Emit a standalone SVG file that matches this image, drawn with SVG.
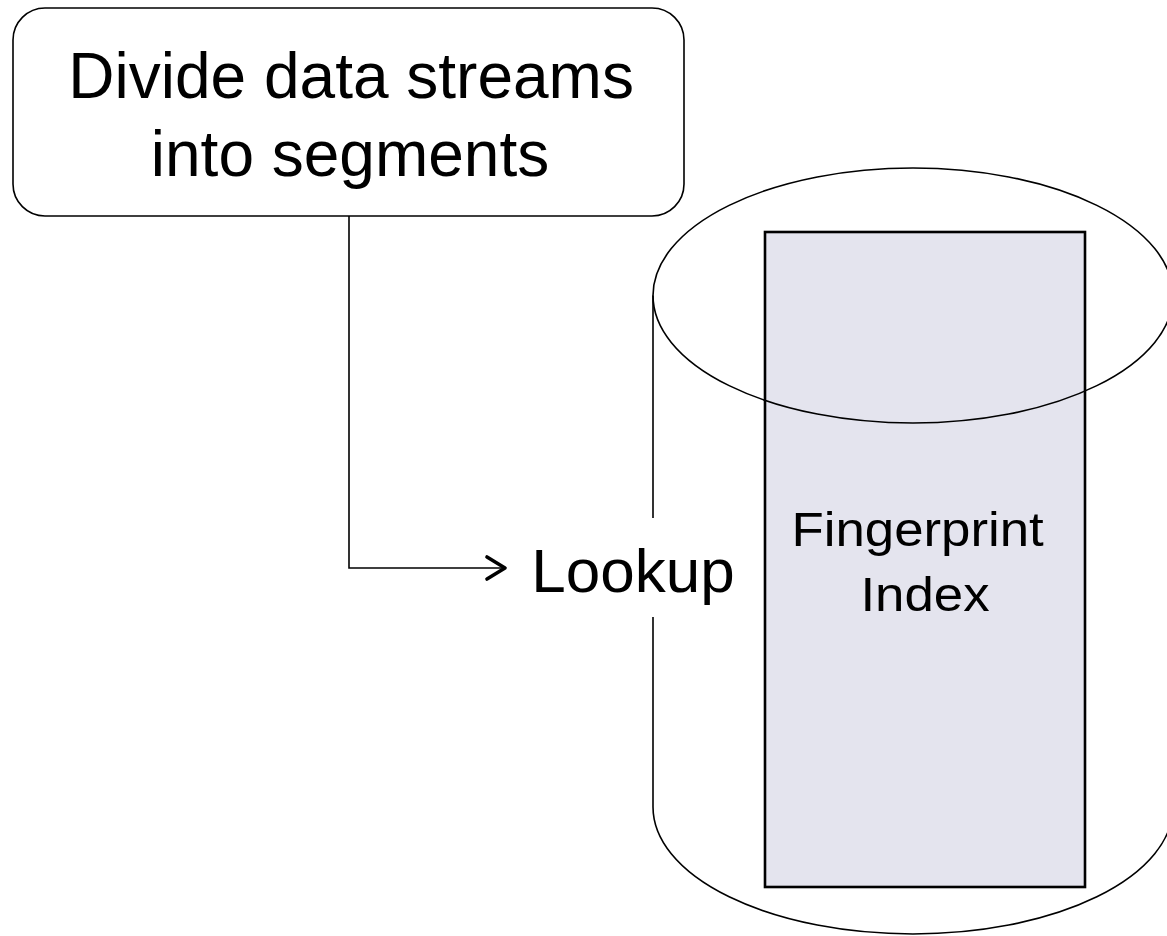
<svg xmlns="http://www.w3.org/2000/svg" width="1167" height="936" viewBox="0 0 1167 936">
  <style>
    .outline { fill: none; stroke: #000; stroke-width: 1.6; }
    .label { font-family: "Liberation Sans", Arial, sans-serif; fill: #000; text-anchor: middle; }
  </style>
  <defs>
    <marker id="arrowOpen" viewBox="0 0 24 28" markerWidth="24" markerHeight="28" refX="21" refY="14" orient="auto" markerUnits="userSpaceOnUse" overflow="visible">
      <path d="M3,3 L21,14 L3,25" fill="none" stroke="#000" stroke-width="3.6" stroke-linecap="round" stroke-linejoin="round"/>
    </marker>
  </defs>
  <rect width="1167" height="936" fill="#fff"/>

  <!-- storage cylinder with the index inside -->
  <g id="storage">
    <path class="outline" d="M653,295.5 L653,807 A260,127 0 0 0 1173,807 L1173,295.5"/>
    <rect id="fingerprint-index" x="765" y="232" width="320" height="655" fill="#e4e4ee" stroke="#000" stroke-width="2.6"/>
    <ellipse class="outline" cx="913" cy="295.5" rx="260" ry="127.5"/>
    <text class="label" font-size="48" transform="translate(925 0) scale(1.1 1) translate(-925 0)">
      <tspan x="925" y="546">Fingerprint</tspan>
      <tspan x="925" y="611">Index</tspan>
    </text>
  </g>

  <!-- segmenting step -->
  <g id="divide">
    <rect class="outline" x="13" y="8" width="671" height="208" rx="32" ry="32" fill="#fff"/>
    <text class="label" font-size="64">
      <tspan x="360" y="98">Divide data streams</tspan>
      <tspan x="350" y="176">into segments</tspan>
    </text>
  </g>

  <!-- lookup label, masking the cylinder wall behind it -->
  <g id="lookup">
    <rect x="515" y="518" width="230" height="99" fill="#fff"/>
    <text class="label" x="633" y="592" font-size="62">Lookup</text>
  </g>

  <g id="connectors">
    <path class="outline" d="M349,216 L349,568 L505,568" marker-end="url(#arrowOpen)"/>
  </g>
</svg>
